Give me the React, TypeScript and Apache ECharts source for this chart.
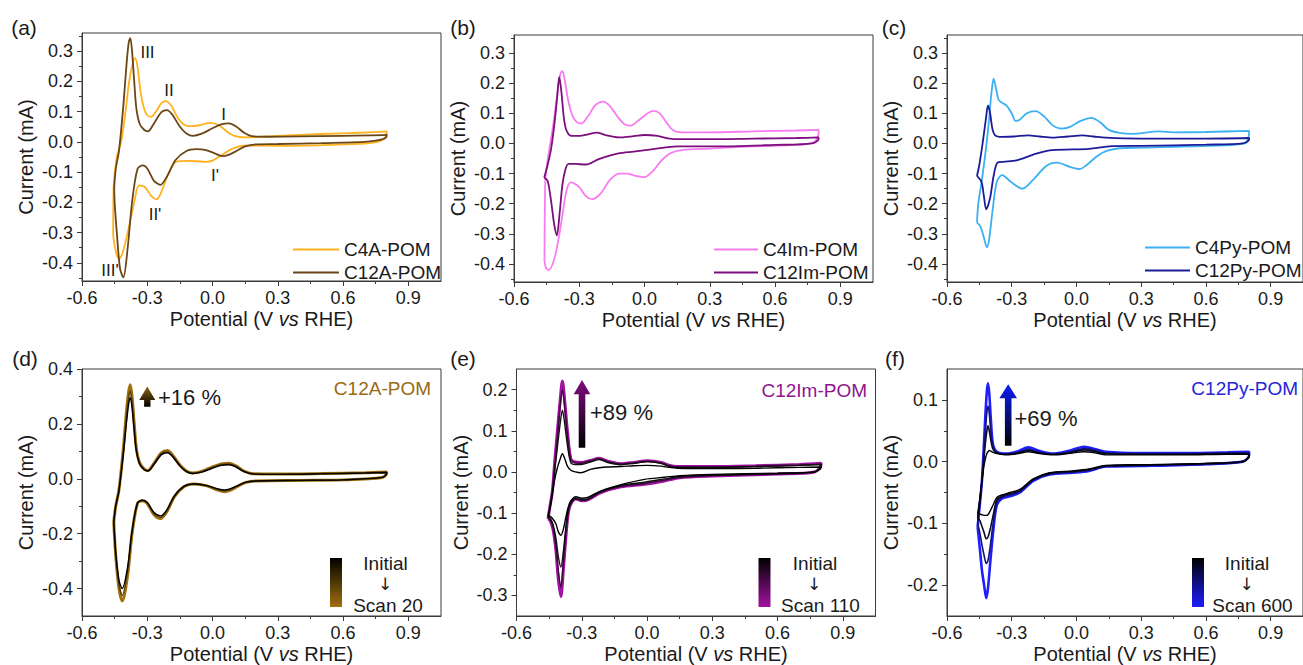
import React, { useEffect, useRef } from 'react';
import * as echarts from 'echarts';

type Pt = [number, number];

// ---------- tick labels ----------
const xMajorTicks = [-0.6, -0.3, 0.0, 0.3, 0.6, 0.9];
const xMinorTicks = [-0.45, -0.15, 0.15, 0.45, 0.75];
const yMajorTop = [-0.4, -0.3, -0.2, -0.1, 0.0, 0.1, 0.2, 0.3];
const yMinorTop = [-0.45, -0.35, -0.25, -0.15, -0.05, 0.05, 0.15, 0.25, 0.35];
const yMajorD = [-0.4, -0.2, 0.0, 0.2, 0.4];
const yMinorD = [-0.3, -0.1, 0.1, 0.3];
const yMajorE = [-0.3, -0.2, -0.1, 0.0, 0.1, 0.2];
const yMinorE = [-0.25, -0.15, -0.05, 0.05, 0.15];
const yMajorF = [-0.2, -0.1, 0.0, 0.1];
const yMinorF = [-0.15, -0.05, 0.05];

// ---------- panel (a) ----------
const c4aPOM: Pt[] = [
  [-0.455, -0.15], [-0.44, -0.05], [-0.42, 0.0], [-0.4, 0.1], [-0.385, 0.19], [-0.37, 0.25], [-0.356, 0.277],
  [-0.345, 0.25], [-0.33, 0.16], [-0.315, 0.11], [-0.3, 0.088], [-0.282, 0.083], [-0.26, 0.1], [-0.235, 0.128],
  [-0.215, 0.135], [-0.19, 0.12], [-0.16, 0.08], [-0.13, 0.057], [-0.1, 0.052], [-0.06, 0.055], [-0.01, 0.063],
  [0.03, 0.055], [0.07, 0.032], [0.1, 0.02], [0.15, 0.015], [0.3, 0.02], [0.5, 0.026], [0.7, 0.031], [0.8, 0.035],
  [0.8, 0.025], [0.76, 0.0], [0.6, -0.008], [0.3, -0.013], [0.16, -0.012], [0.1, -0.02], [0.05, -0.04],
  [0.0, -0.062], [-0.03, -0.066], [-0.07, -0.064], [-0.12, -0.063], [-0.165, -0.065], [-0.2, -0.1],
  [-0.235, -0.165], [-0.257, -0.19], [-0.28, -0.18], [-0.31, -0.15], [-0.338, -0.144], [-0.36, -0.2],
  [-0.39, -0.3], [-0.415, -0.37], [-0.43, -0.387], [-0.445, -0.36], [-0.457, -0.3], [-0.455, -0.15],
];
const c12aPOM: Pt[] = [
  [-0.452, -0.15], [-0.445, -0.09], [-0.43, -0.03], [-0.41, 0.12], [-0.395, 0.26], [-0.385, 0.33], [-0.378, 0.343],
  [-0.37, 0.3], [-0.36, 0.2], [-0.35, 0.11], [-0.335, 0.06], [-0.315, 0.04], [-0.297, 0.035], [-0.27, 0.06],
  [-0.235, 0.098], [-0.21, 0.105], [-0.185, 0.09], [-0.15, 0.05], [-0.12, 0.028], [-0.09, 0.02], [-0.05, 0.027],
  [0.0, 0.045], [0.04, 0.058], [0.075, 0.061], [0.11, 0.05], [0.145, 0.03], [0.18, 0.019], [0.25, 0.017],
  [0.4, 0.018], [0.6, 0.02], [0.78, 0.022], [0.8, 0.024],
  [0.8, 0.018], [0.78, 0.008], [0.7, 0.0], [0.5, -0.004], [0.3, -0.007], [0.2, -0.008], [0.15, -0.015],
  [0.11, -0.03], [0.07, -0.044], [0.045, -0.047], [0.01, -0.038], [-0.03, -0.027], [-0.075, -0.024],
  [-0.12, -0.03], [-0.17, -0.06], [-0.21, -0.115], [-0.24, -0.142], [-0.27, -0.128], [-0.3, -0.088],
  [-0.32, -0.078], [-0.345, -0.09], [-0.37, -0.2], [-0.39, -0.35], [-0.41, -0.448], [-0.425, -0.42],
  [-0.44, -0.3], [-0.45, -0.2], [-0.452, -0.15],
];

// ---------- panel (b) ----------
const c4ImPOM: Pt[] = [
  [-0.46, -0.39], [-0.458, -0.2], [-0.455, -0.11], [-0.44, -0.03], [-0.42, 0.06], [-0.4, 0.17], [-0.387, 0.23],
  [-0.378, 0.241], [-0.368, 0.215], [-0.35, 0.14], [-0.33, 0.09], [-0.31, 0.07], [-0.29, 0.066], [-0.26, 0.09],
  [-0.225, 0.128], [-0.19, 0.139], [-0.16, 0.125], [-0.12, 0.085], [-0.09, 0.063], [-0.065, 0.059], [-0.03, 0.075],
  [0.01, 0.098], [0.04, 0.108], [0.07, 0.1], [0.1, 0.07], [0.13, 0.045], [0.17, 0.037], [0.3, 0.037],
  [0.5, 0.04], [0.7, 0.043], [0.8, 0.045],
  [0.8, 0.035], [0.78, 0.005], [0.7, -0.005], [0.5, -0.01], [0.3, -0.017], [0.17, -0.022], [0.12, -0.032],
  [0.08, -0.055], [0.04, -0.09], [0.0, -0.112], [-0.04, -0.108], [-0.08, -0.1], [-0.118, -0.1], [-0.16, -0.122],
  [-0.2, -0.165], [-0.24, -0.185], [-0.27, -0.175], [-0.3, -0.145], [-0.34, -0.129], [-0.36, -0.16],
  [-0.38, -0.25], [-0.41, -0.37], [-0.44, -0.42], [-0.452, -0.415], [-0.46, -0.39],
];
const c12ImPOM: Pt[] = [
  [-0.461, -0.113], [-0.445, -0.07], [-0.43, -0.02], [-0.415, 0.06], [-0.402, 0.15], [-0.392, 0.221],
  [-0.382, 0.17], [-0.37, 0.08], [-0.358, 0.042], [-0.335, 0.025], [-0.3, 0.025], [-0.26, 0.03], [-0.22, 0.036],
  [-0.18, 0.028], [-0.12, 0.02], [-0.05, 0.024], [0.0, 0.028], [0.06, 0.025], [0.1, 0.018], [0.14, 0.014],
  [0.3, 0.014], [0.5, 0.016], [0.7, 0.018], [0.8, 0.02],
  [0.8, 0.015], [0.77, 0.0], [0.6, -0.005], [0.3, -0.01], [0.15, -0.01], [0.04, -0.019], [-0.05, -0.027],
  [-0.12, -0.033], [-0.21, -0.052], [-0.27, -0.07], [-0.32, -0.068], [-0.35, -0.068], [-0.365, -0.09],
  [-0.378, -0.14], [-0.39, -0.23], [-0.403, -0.305], [-0.415, -0.27], [-0.428, -0.2], [-0.445, -0.125],
  [-0.461, -0.113],
];

// ---------- panel (c) ----------
const c4PyPOM: Pt[] = [
  [-0.461, -0.263], [-0.455, -0.2], [-0.438, -0.12], [-0.42, -0.02], [-0.405, 0.08], [-0.395, 0.16],
  [-0.384, 0.215], [-0.372, 0.18], [-0.361, 0.145], [-0.345, 0.135], [-0.323, 0.125], [-0.3, 0.1],
  [-0.283, 0.075], [-0.265, 0.078], [-0.23, 0.1], [-0.19, 0.107], [-0.15, 0.09], [-0.11, 0.06], [-0.07, 0.049],
  [-0.03, 0.055], [0.02, 0.075], [0.07, 0.085], [0.11, 0.07], [0.15, 0.045], [0.2, 0.035], [0.26, 0.032],
  [0.38, 0.04], [0.45, 0.037], [0.6, 0.038], [0.8, 0.042],
  [0.8, 0.035], [0.78, 0.0], [0.6, -0.008], [0.3, -0.014], [0.2, -0.016], [0.14, -0.025], [0.1, -0.04],
  [0.05, -0.07], [0.015, -0.085], [-0.03, -0.078], [-0.09, -0.064], [-0.14, -0.075], [-0.2, -0.12],
  [-0.25, -0.15], [-0.3, -0.13], [-0.345, -0.105], [-0.37, -0.13], [-0.39, -0.23], [-0.405, -0.32],
  [-0.415, -0.345], [-0.43, -0.31], [-0.445, -0.275], [-0.461, -0.263],
];
const c12PyPOM: Pt[] = [
  [-0.461, -0.108], [-0.45, -0.07], [-0.435, 0.0], [-0.42, 0.08], [-0.41, 0.126], [-0.4, 0.1], [-0.39, 0.05],
  [-0.377, 0.027], [-0.346, 0.022], [-0.29, 0.023], [-0.224, 0.027], [-0.17, 0.023], [-0.11, 0.019],
  [-0.04, 0.023], [0.028, 0.027], [0.08, 0.023], [0.135, 0.019], [0.3, 0.016], [0.6, 0.016], [0.8, 0.018],
  [0.8, 0.012], [0.77, 0.0], [0.6, -0.004], [0.3, -0.008], [0.165, -0.009], [0.058, -0.018], [-0.018, -0.02],
  [-0.125, -0.023], [-0.2, -0.037], [-0.277, -0.056], [-0.339, -0.061], [-0.366, -0.064], [-0.384, -0.108],
  [-0.4, -0.18], [-0.418, -0.219], [-0.43, -0.17], [-0.44, -0.128], [-0.461, -0.108],
];

// ---------- panel (d): C12A-POM cycling ----------
const dUpE = [-0.454, -0.445, -0.43, -0.41, -0.395, -0.385, -0.378, -0.37, -0.36, -0.35, -0.335, -0.315, -0.297, -0.27, -0.235, -0.208, -0.185, -0.15, -0.12, -0.093, -0.05, 0.0, 0.04, 0.076, 0.11, 0.145, 0.19, 0.3, 0.5, 0.7, 0.8];
const dUpInitial = [-0.155, -0.1, -0.042, 0.09, 0.21, 0.275, 0.295, 0.26, 0.175, 0.1, 0.054, 0.034, 0.028, 0.052, 0.088, 0.095, 0.082, 0.047, 0.026, 0.019, 0.024, 0.039, 0.049, 0.051, 0.042, 0.026, 0.017, 0.016, 0.018, 0.021, 0.023];
const dUpMid = [-0.157, -0.1, -0.041, 0.1, 0.23, 0.3, 0.32, 0.28, 0.19, 0.105, 0.056, 0.035, 0.029, 0.053, 0.092, 0.099, 0.085, 0.048, 0.027, 0.02, 0.026, 0.041, 0.052, 0.054, 0.044, 0.027, 0.018, 0.017, 0.019, 0.022, 0.024];
const dUpScan20 = [-0.158, -0.1, -0.04, 0.11, 0.25, 0.32, 0.343, 0.3, 0.2, 0.11, 0.058, 0.036, 0.03, 0.055, 0.095, 0.103, 0.088, 0.05, 0.028, 0.021, 0.027, 0.043, 0.054, 0.057, 0.046, 0.028, 0.018, 0.017, 0.019, 0.022, 0.025];
const dLowE = [0.8, 0.78, 0.6, 0.4, 0.2, 0.15, 0.11, 0.08, 0.055, 0.02, -0.03, -0.085, -0.13, -0.175, -0.21, -0.239, -0.27, -0.3, -0.323, -0.345, -0.37, -0.39, -0.415, -0.43, -0.445, -0.454];
const dLowInitial = [0.018, 0.005, -0.004, -0.006, -0.008, -0.013, -0.027, -0.037, -0.041, -0.036, -0.024, -0.019, -0.027, -0.062, -0.113, -0.135, -0.122, -0.086, -0.078, -0.088, -0.19, -0.32, -0.4, -0.37, -0.27, -0.155];
const dLowMid = [0.019, 0.005, -0.004, -0.006, -0.008, -0.0135, -0.028, -0.04, -0.044, -0.038, -0.025, -0.019, -0.028, -0.064, -0.117, -0.14, -0.126, -0.088, -0.079, -0.089, -0.195, -0.335, -0.425, -0.385, -0.275, -0.156];
const dLowScan20 = [0.02, 0.005, -0.004, -0.006, -0.008, -0.014, -0.03, -0.042, -0.047, -0.04, -0.025, -0.019, -0.028, -0.065, -0.12, -0.145, -0.13, -0.09, -0.08, -0.09, -0.2, -0.35, -0.445, -0.4, -0.28, -0.158];

// ---------- panel (e): C12Im-POM cycling ----------
const eUpE = [-0.455, -0.445, -0.435, -0.425, -0.412, -0.4, -0.389, -0.378, -0.366, -0.35, -0.33, -0.304, -0.26, -0.22, -0.18, -0.12, -0.06, 0.003, 0.065, 0.1, 0.141, 0.3, 0.5, 0.7, 0.8];
const eUpInitial = [-0.106, -0.085, -0.054, -0.02, 0.01, 0.03, 0.044, 0.032, 0.014, 0.004, 0.0, -0.002, 0.006, 0.01, 0.012, 0.013, 0.015, 0.016, 0.014, 0.011, 0.009, 0.008, 0.009, 0.011, 0.012];
const eUpMid1 = [-0.11, -0.083, -0.05, 0.0, 0.06, 0.115, 0.15, 0.115, 0.065, 0.022, 0.018, 0.018, 0.024, 0.03, 0.023, 0.018, 0.021, 0.025, 0.021, 0.014, 0.011, 0.011, 0.013, 0.016, 0.018];
const eUpMid2 = [-0.112, -0.08, -0.047, 0.01, 0.085, 0.155, 0.2, 0.155, 0.09, 0.028, 0.022, 0.021, 0.027, 0.032, 0.025, 0.019, 0.022, 0.026, 0.022, 0.015, 0.012, 0.012, 0.014, 0.017, 0.019];
const eUpScan110 = [-0.114, -0.08, -0.046, 0.02, 0.099, 0.17, 0.221, 0.17, 0.099, 0.031, 0.024, 0.023, 0.028, 0.033, 0.026, 0.02, 0.023, 0.027, 0.023, 0.016, 0.013, 0.013, 0.015, 0.018, 0.021];
const eLowE = [0.8, 0.77, 0.6, 0.3, 0.15, 0.08, -0.012, -0.12, -0.212, -0.273, -0.3, -0.327, -0.35, -0.362, -0.373, -0.385, -0.396, -0.408, -0.419, -0.432, -0.445, -0.455];
const eLowInitial = [0.01, 0.0, -0.003, -0.006, -0.009, -0.013, -0.018, -0.031, -0.046, -0.062, -0.064, -0.06, -0.07, -0.085, -0.11, -0.14, -0.154, -0.145, -0.126, -0.115, -0.108, -0.106];
const eLowMid1 = [0.014, 0.0, -0.004, -0.008, -0.011, -0.017, -0.025, -0.033, -0.048, -0.066, -0.068, -0.063, -0.074, -0.093, -0.135, -0.195, -0.231, -0.205, -0.16, -0.128, -0.113, -0.11];
const eLowMid2 = [0.016, 0.0, -0.005, -0.009, -0.013, -0.02, -0.028, -0.035, -0.049, -0.067, -0.069, -0.065, -0.076, -0.097, -0.15, -0.225, -0.28, -0.24, -0.18, -0.135, -0.116, -0.112];
const eLowScan110 = [0.018, 0.0, -0.005, -0.01, -0.014, -0.022, -0.03, -0.036, -0.05, -0.068, -0.07, -0.066, -0.078, -0.1, -0.158, -0.24, -0.303, -0.26, -0.19, -0.14, -0.118, -0.114];

// ---------- panel (f): C12Py-POM cycling ----------
const fUpE = [-0.458, -0.448, -0.438, -0.43, -0.422, -0.415, -0.41, -0.404, -0.397, -0.387, -0.369, -0.323, -0.27, -0.224, -0.17, -0.11, -0.04, 0.036, 0.09, 0.135, 0.3, 0.5, 0.7, 0.8];
const fUpInitial = [-0.085, -0.06, -0.031, -0.01, 0.005, 0.013, 0.016, 0.018, 0.017, 0.015, 0.013, 0.011, 0.013, 0.016, 0.013, 0.011, 0.013, 0.016, 0.014, 0.011, 0.011, 0.011, 0.012, 0.012];
const fUpMid1 = [-0.092, -0.065, -0.031, 0.0, 0.03, 0.05, 0.058, 0.05, 0.035, 0.02, 0.014, 0.012, 0.014, 0.018, 0.014, 0.012, 0.014, 0.019, 0.016, 0.013, 0.012, 0.012, 0.013, 0.013];
const fUpMid2 = [-0.1, -0.068, -0.031, 0.01, 0.05, 0.08, 0.09, 0.078, 0.05, 0.024, 0.015, 0.012, 0.015, 0.02, 0.015, 0.012, 0.015, 0.021, 0.018, 0.014, 0.013, 0.013, 0.014, 0.014];
const fUpScan600 = [-0.106, -0.07, -0.031, 0.02, 0.076, 0.115, 0.127, 0.11, 0.07, 0.028, 0.016, 0.013, 0.017, 0.023, 0.017, 0.013, 0.017, 0.024, 0.02, 0.016, 0.014, 0.014, 0.015, 0.016];
const fLowE = [0.8, 0.77, 0.6, 0.3, 0.135, 0.058, -0.018, -0.125, -0.2, -0.262, -0.308, -0.346, -0.369, -0.385, -0.4, -0.41, -0.418, -0.428, -0.438, -0.448, -0.458];
const fLowInitial = [0.008, 0.0, -0.003, -0.005, -0.006, -0.012, -0.015, -0.018, -0.028, -0.045, -0.05, -0.054, -0.058, -0.069, -0.08, -0.086, -0.087, -0.087, -0.086, -0.085, -0.085];
const fLowMid1 = [0.009, 0.0, -0.003, -0.006, -0.007, -0.013, -0.016, -0.019, -0.029, -0.047, -0.052, -0.056, -0.062, -0.085, -0.11, -0.122, -0.125, -0.115, -0.105, -0.095, -0.092];
const fLowMid2 = [0.01, 0.0, -0.004, -0.006, -0.008, -0.014, -0.017, -0.02, -0.03, -0.048, -0.054, -0.058, -0.066, -0.097, -0.138, -0.16, -0.165, -0.152, -0.135, -0.115, -0.1];
const fLowScan600 = [0.01, 0.0, -0.004, -0.007, -0.008, -0.015, -0.018, -0.021, -0.031, -0.05, -0.056, -0.06, -0.07, -0.11, -0.165, -0.205, -0.221, -0.2, -0.176, -0.14, -0.106];

const loop = (upE: number[], upI: number[], lowE: number[], lowI: number[]): Pt[] => [
  ...upE.map((e, k) => [e, upI[k]] as Pt),
  ...lowE.map((e, k) => [e, lowI[k]] as Pt),
];

const FONT = "'Liberation Sans', Arial, Helvetica, sans-serif";
const TXT = '#1a1a1a';
const AX = '#3a3a3a';

const fmt1 = (v: any) => {
  const n = Math.round(Number(v) * 10) / 10;
  if (Math.abs(n) < 1e-9) return '0.0';
  return (n < 0 ? '-' : '') + Math.floor(Math.abs(n)) + '.' + Math.round((Math.abs(n) % 1) * 10);
};

export default function App() {
  const ref = useRef<HTMLDivElement>(null);

  useEffect(() => {
    if (!ref.current) return;
    const chart = echarts.init(ref.current, null, { renderer: 'svg' });

    const grids = [
      { left: 82, top: 33, width: 359, height: 248 },
      { left: 514, top: 35, width: 359, height: 247 },
      { left: 947, top: 35, width: 359, height: 247 },
      { left: 82, top: 369, width: 359, height: 248 },
      { left: 516.5, top: 369, width: 359, height: 248 },
      { left: 947, top: 369, width: 359, height: 248 },
    ];
    const yCfg = [
      { min: -0.46, max: 0.36, major: yMajorTop, minor: yMinorTop },
      { min: -0.46, max: 0.36, major: yMajorTop, minor: yMinorTop },
      { min: -0.46, max: 0.36, major: yMajorTop, minor: yMinorTop },
      { min: -0.5, max: 0.4, major: yMajorD, minor: yMinorD },
      { min: -0.35, max: 0.25, major: yMajorE, minor: yMinorE },
      { min: -0.25, max: 0.15, major: yMajorF, minor: yMinorF },
    ];

    const xAxis: any[] = [];
    const yAxis: any[] = [];
    grids.forEach((_, i) => {
      xAxis.push({
        type: 'value', gridIndex: i, min: -0.6, max: 1.05, position: 'bottom', z: 6,
        axisLine: { show: true, onZero: false, lineStyle: { color: AX, width: 1 } },
        axisTick: { show: true, length: 5, lineStyle: { color: AX }, customValues: xMajorTicks },
        axisLabel: {
          customValues: xMajorTicks, formatter: fmt1, hideOverlap: false,
          fontSize: 18, color: TXT, fontFamily: FONT, margin: 8,
        },
        splitLine: { show: false },
        name: 'Potential (V {i|vs} RHE)', nameLocation: 'middle', nameGap: 28,
        nameTextStyle: {
          fontSize: 20, color: TXT, fontFamily: FONT,
          rich: { i: { fontStyle: 'italic', fontSize: 20, color: TXT, fontFamily: FONT } },
        },
      });
      xAxis.push({
        type: 'value', gridIndex: i, min: -0.6, max: 1.05, position: 'bottom',
        axisLine: { show: false, onZero: false },
        axisTick: { show: true, length: 3, lineStyle: { color: AX }, customValues: xMinorTicks },
        axisLabel: { show: false, customValues: xMinorTicks },
        splitLine: { show: false },
      });
      const c = yCfg[i];
      yAxis.push({
        type: 'value', gridIndex: i, min: c.min, max: c.max, position: 'left', z: 6,
        axisLine: { show: true, onZero: false, lineStyle: { color: AX, width: 1 } },
        axisTick: { show: true, length: 5, lineStyle: { color: AX }, customValues: c.major },
        axisLabel: {
          customValues: c.major, formatter: fmt1, hideOverlap: false, overflow: 'none',
          fontSize: 18, color: TXT, fontFamily: FONT, margin: 9,
        },
        splitLine: { show: false },
        name: 'Current (mA)', nameLocation: 'middle', nameGap: 46, nameRotate: 90,
        nameMoveOverlap: false,
        nameTextStyle: { fontSize: 20, color: TXT, fontFamily: FONT },
      });
      yAxis.push({
        type: 'value', gridIndex: i, min: c.min, max: c.max, position: 'left',
        axisLine: { show: false, onZero: false },
        axisTick: { show: true, length: 3, lineStyle: { color: AX }, customValues: c.minor },
        axisLabel: { show: false, customValues: c.minor },
        splitLine: { show: false },
      });
    });

    const mk = (panel: number, name: string, data: Pt[], color: string, width: number, z = 2) => ({
      type: 'line', name, data, xAxisIndex: panel * 2, yAxisIndex: panel * 2,
      symbol: 'none', smooth: 0.3, z, color,
      lineStyle: { color, width }, emphasis: { disabled: true },
    });

    const series = [
      mk(0, 'C4A-POM', c4aPOM, '#FFB21E', 1.8),
      mk(0, 'C12A-POM', c12aPOM, '#6B4616', 1.8),
      mk(1, 'C4Im-POM', c4ImPOM, '#F77CF2', 1.8),
      mk(1, 'C12Im-POM', c12ImPOM, '#7D0F7D', 1.8),
      mk(2, 'C4Py-POM', c4PyPOM, '#3DB0F2', 1.8),
      mk(2, 'C12Py-POM', c12PyPOM, '#1C1C9A', 1.8),

      mk(3, 'C12A-POM scan 20', loop(dUpE, dUpScan20, dLowE, dLowScan20), '#A0700E', 3, 2),
      mk(3, 'C12A-POM scan 10', loop(dUpE, dUpMid, dLowE, dLowMid), '#5A3F0C', 1.4, 3),
      mk(3, 'C12A-POM initial', loop(dUpE, dUpInitial, dLowE, dLowInitial), '#000000', 1.4, 4),

      mk(4, 'C12Im-POM scan 110', loop(eUpE, eUpScan110, eLowE, eLowScan110), '#A012A0', 3, 2),
      mk(4, 'C12Im-POM scan 70', loop(eUpE, eUpMid2, eLowE, eLowMid2), '#3A083A', 1.4, 3),
      mk(4, 'C12Im-POM scan 30', loop(eUpE, eUpMid1, eLowE, eLowMid1), '#111111', 1.4, 3),
      mk(4, 'C12Im-POM initial', loop(eUpE, eUpInitial, eLowE, eLowInitial), '#000000', 1.4, 4),

      mk(5, 'C12Py-POM scan 600', loop(fUpE, fUpScan600, fLowE, fLowScan600), '#1E1EFF', 2.6, 2),
      mk(5, 'C12Py-POM scan 400', loop(fUpE, fUpMid2, fLowE, fLowMid2), '#14147A', 1.6, 3),
      mk(5, 'C12Py-POM scan 200', loop(fUpE, fUpMid1, fLowE, fLowMid1), '#0A0A30', 1.6, 3),
      mk(5, 'C12Py-POM initial', loop(fUpE, fUpInitial, fLowE, fLowInitial), '#000000', 1.4, 4),
    ];

    const legendBase = {
      orient: 'vertical', itemWidth: 46, itemHeight: 14, itemGap: 4,
      textStyle: { fontSize: 19, color: TXT, fontFamily: FONT },
      itemStyle: { opacity: 0, borderWidth: 0 },
      selectedMode: false,
    };
    const legend = [
      { ...legendBase, data: ['C4A-POM', 'C12A-POM'], left: 287, top: 235 },
      { ...legendBase, data: ['C4Im-POM', 'C12Im-POM'], left: 708, top: 235, itemWidth: 44 },
      { ...legendBase, data: ['C4Py-POM', 'C12Py-POM'], left: 1139, top: 233, itemWidth: 45 },
    ];

    const t = (text: string, x: number, y: number, opts: any = {}) => ({
      type: 'text', x, y, z: 10,
      style: {
        text, fill: opts.fill || TXT, fontSize: opts.fontSize || 17, fontFamily: opts.fontFamily || FONT,
        align: opts.align || 'center', textAlign: opts.align || 'center',
        verticalAlign: 'middle', textVerticalAlign: 'middle',
      },
    });
    const grad = (top: string, bottom: string) =>
      new echarts.graphic.LinearGradient(0, 0, 0, 1, [
        { offset: 0, color: top },
        { offset: 1, color: bottom },
      ]);
    const arrow = (cx: number, tipY: number, baseY: number, endY: number, headHalf: number, shaftHalf: number, color: string) => ({
      type: 'polygon', z: 10,
      shape: {
        points: [
          [cx, tipY], [cx + headHalf, baseY], [cx + shaftHalf, baseY], [cx + shaftHalf, endY],
          [cx - shaftHalf, endY], [cx - shaftHalf, baseY], [cx - headHalf, baseY],
        ],
      },
      style: { fill: grad(color, '#000000') },
    });
    const bar = (x: number, color: string) => ({
      type: 'rect', z: 10, shape: { x, y: 558, width: 12, height: 49 },
      style: { fill: grad('#000000', color) },
    });
    const DOWN = { fontSize: 17, fontFamily: "'DejaVu Sans', sans-serif" };

    const graphic = [
      t('(a)', 24, 27, { fontSize: 21 }),
      t('(b)', 463, 27, { fontSize: 21 }),
      t('(c)', 894, 27, { fontSize: 21 }),
      t('(d)', 25, 358, { fontSize: 21 }),
      t('(e)', 463, 358, { fontSize: 21 }),
      t('(f)', 895, 358, { fontSize: 21 }),

      t('III', 147.5, 52.5),
      t('II', 169, 90),
      t('I', 223.5, 114.5),
      t("I'", 215, 175.5),
      t("II'", 155, 214),
      t("III'", 110, 270),

      t('C12A-POM', 431, 388, { fontSize: 19, fill: '#9A6A12', align: 'right' }),
      t('C12Im-POM', 867, 390, { fontSize: 19, fill: '#8E168E', align: 'right' }),
      t('C12Py-POM', 1298, 388, { fontSize: 19, fill: '#2626D8', align: 'right' }),

      arrow(147.3, 386.5, 400, 406.7, 8, 3.2, '#8F6210'),
      t('+16 %', 158, 397, { fontSize: 22, align: 'left' }),
      arrow(582, 380, 394.3, 447.7, 8.3, 3.3, '#7E0C7E'),
      t('+89 %', 590, 412.5, { fontSize: 22, align: 'left' }),
      arrow(1008.2, 384.3, 398.3, 445.7, 8.8, 3.3, '#0A1EF5'),
      t('+69 %', 1014.5, 418, { fontSize: 22, align: 'left' }),

      bar(330, '#A0700E'),
      t('Initial', 385.5, 563, { fontSize: 19 }),
      t('↓', 385, 583.5, DOWN),
      t('Scan 20', 388, 605, { fontSize: 19 }),
      bar(758.5, '#A012A0'),
      t('Initial', 815, 563, { fontSize: 19 }),
      t('↓', 814, 583.5, DOWN),
      t('Scan 110', 820.5, 605, { fontSize: 19 }),
      bar(1192, '#1E1EFF'),
      t('Initial', 1247, 563, { fontSize: 19 }),
      t('↓', 1246.5, 583.5, DOWN),
      t('Scan 600', 1252.5, 605, { fontSize: 19 }),
    ];

    chart.setOption({
      animation: false,
      backgroundColor: '#ffffff',
      textStyle: { fontFamily: FONT },
      grid: grids.map((g) => ({ ...g, show: true, borderColor: AX, borderWidth: 1, backgroundColor: 'transparent' })),
      xAxis,
      yAxis,
      legend,
      series,
      graphic,
    });

    return () => chart.dispose();
  }, []);

  return (
    <div
      ref={ref}
      style={{ position: 'absolute', left: 0, top: 0, width: 1303, height: 665, background: '#fff' }}
    />
  );
}
